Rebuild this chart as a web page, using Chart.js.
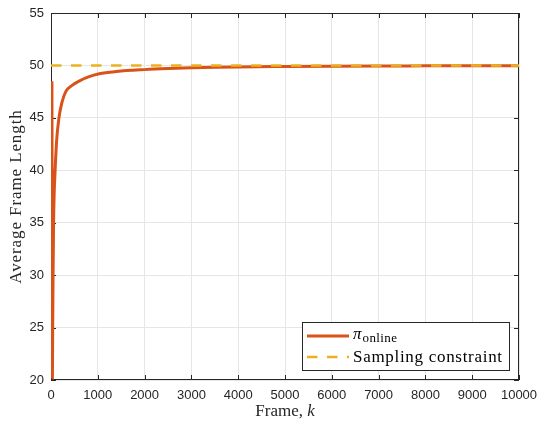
<!DOCTYPE html>
<html>
<head>
<meta charset="utf-8">
<script src="https://cdn.jsdelivr.net/npm/chart.js@4.4.1/dist/chart.umd.min.js"></script>
<style>
  html, body { margin: 0; padding: 0; background: #fff; }
  #wrap { width: 539px; height: 426px; }
</style>
</head>
<body>
<div id="wrap"><canvas id="grafico"></canvas></div>
<script>
// valores
const frames = [20, 30, 36, 44, 55, 68, 88, 120, 170, 230, 315, 450, 600, 800, 1030, 1400, 2000, 2500, 3000, 3500, 4000, 5000, 6000, 7000, 8000, 9000, 10000];
const avgLength = [48.5, 20.2, 25, 30, 35, 37.8, 40, 42.8, 45, 46.4, 47.5, 48.1, 48.5, 48.9, 49.2, 49.42, 49.6, 49.7, 49.77, 49.82, 49.86, 49.9, 49.93, 49.95, 49.96, 49.97, 49.98];
const constraintFrames = [0, 10000];
const constraintValues = [50, 50];
const xTicks = [0, 1000, 2000, 3000, 4000, 5000, 6000, 7000, 8000, 9000, 10000];
const yTicks = [20, 25, 30, 35, 40, 45, 50, 55];
const xTitle = ['Frame, ', 'k'];
const yTitle = 'Average Frame Length';
const legendNames = [['\u03c0', 'online'], 'Sampling constraint'];

const corOnline = '#D95319';
const corLimite = '#EDB120';
const corEixo = '#262626';
const tracos = [10.5, 9.5];

const ctx = document.getElementById('grafico');

const extras = {
    id: 'extras',
    beforeDatasetsDraw(chart) {
        const { ctx, chartArea: a, scales: { x, y } } = chart;
        ctx.save();
        ctx.strokeStyle = corEixo;
        ctx.lineWidth = 1;
        ctx.beginPath();
        xTicks.forEach(v => {
            const px = Math.round(x.getPixelForValue(v)) + 0.5;
            ctx.moveTo(px, a.bottom); ctx.lineTo(px, a.bottom - 5);
            ctx.moveTo(px, a.top); ctx.lineTo(px, a.top + 5);
        });
        yTicks.forEach(v => {
            const py = Math.round(y.getPixelForValue(v)) + 0.5;
            ctx.moveTo(a.left, py); ctx.lineTo(a.left + 5, py);
            ctx.moveTo(a.right, py); ctx.lineTo(a.right - 5, py);
        });
        ctx.stroke();
        ctx.strokeRect(a.left + 0.5, a.top + 0.5, a.width - 1, a.height - 1);
        ctx.restore();
    },
    afterDraw(chart) {
        const { ctx, chartArea: a } = chart;
        ctx.save();
        ctx.fillStyle = corEixo;
        ctx.textBaseline = 'alphabetic';

        // titulo eixo x
        ctx.font = '17px "Liberation Serif"';
        const w1 = ctx.measureText(xTitle[0]).width;
        ctx.font = 'italic 17px "Liberation Serif"';
        const w2 = ctx.measureText(xTitle[1]).width;
        let cx = (a.left + a.right) / 2 - (w1 + w2) / 2;
        ctx.textAlign = 'left';
        ctx.font = '17px "Liberation Serif"';
        ctx.fillText(xTitle[0], cx, 416);
        ctx.font = 'italic 17px "Liberation Serif"';
        ctx.fillText(xTitle[1], cx + w1, 416);

        // titulo eixo y
        ctx.save();
        ctx.translate(21, (a.top + a.bottom) / 2);
        ctx.rotate(-Math.PI / 2);
        ctx.font = '17px "Liberation Serif"';
        ctx.letterSpacing = '0.9px';
        ctx.textAlign = 'center';
        ctx.fillText(yTitle, 0, 0);
        ctx.restore();

        // legenda
        const bx = 302, by = 322, bw = 207, bh = 48;
        ctx.fillStyle = '#fff';
        ctx.fillRect(bx, by, bw, bh);
        ctx.strokeStyle = corEixo;
        ctx.lineWidth = 1;
        ctx.strokeRect(bx + 0.5, by + 0.5, bw, bh);

        ctx.lineWidth = 3;
        ctx.strokeStyle = corOnline;
        ctx.beginPath(); ctx.moveTo(307, 336); ctx.lineTo(349, 336); ctx.stroke();

        ctx.lineWidth = 2.5;
        ctx.strokeStyle = corLimite;
        ctx.setLineDash(tracos);
        ctx.beginPath(); ctx.moveTo(307, 357); ctx.lineTo(349, 357); ctx.stroke();
        ctx.setLineDash([]);

        ctx.fillStyle = '#000';
        ctx.textAlign = 'left';
        ctx.font = 'italic 17px "Liberation Serif"';
        ctx.fillText(legendNames[0][0], 353, 339);
        const wp = ctx.measureText(legendNames[0][0]).width;
        ctx.font = '13px "Liberation Serif"';
        ctx.letterSpacing = '0.4px';
        ctx.fillText(legendNames[0][1], 353 + wp + 1, 342);
        ctx.font = '17px "Liberation Serif"';
        ctx.letterSpacing = '0.7px';
        ctx.fillText(legendNames[1], 353, 362);
        ctx.restore();
    }
};

new Chart(ctx, {
    type: 'line',
    data: {
        datasets: [{
            label: 'online',
            data: frames.map((f, i) => ({ x: f, y: avgLength[i] })),
            borderColor: corOnline,
            backgroundColor: corOnline,
            borderWidth: 3,
            pointRadius: 0,
            cubicInterpolationMode: 'monotone',
            order: 2
        }, {
            label: 'Sampling constraint',
            data: constraintFrames.map((f, i) => ({ x: f, y: constraintValues[i] })),
            borderColor: corLimite,
            backgroundColor: corLimite,
            borderWidth: 2.5,
            borderDash: tracos,
            pointRadius: 0,
            order: 1
        }]
    },
    options: {
        responsive: true,
        maintainAspectRatio: false,
        animation: false,
        layout: { padding: { top: 13, right: 20, left: 0, bottom: 0 } },
        plugins: {
            legend: { display: false },
            tooltip: { enabled: false }
        },
        scales: {
            x: {
                type: 'linear',
                min: 0,
                max: 10000,
                afterBuildTicks: axis => { axis.ticks = xTicks.map(v => ({ value: v })); },
                afterFit: axis => { axis.height = 46; axis.paddingRight = 0; axis.paddingLeft = 0; },
                grid: { color: '#e6e6e6', drawTicks: false },
                border: { display: false },
                ticks: {
                    padding: 8,
                    maxRotation: 0,
                    color: corEixo,
                    font: { family: '"Liberation Sans"', size: 13 },
                    callback: v => String(v)
                }
            },
            y: {
                type: 'linear',
                min: 20,
                max: 55,
                afterBuildTicks: axis => { axis.ticks = yTicks.map(v => ({ value: v })); },
                afterFit: axis => { axis.width = 51; axis.paddingTop = 0; axis.paddingBottom = 0; },
                grid: { color: '#e6e6e6', drawTicks: false },
                border: { display: false },
                ticks: {
                    padding: 7,
                    color: corEixo,
                    font: { family: '"Liberation Sans"', size: 13 }
                }
            }
        }
    },
    plugins: [extras]
});
</script>
</body>
</html>
